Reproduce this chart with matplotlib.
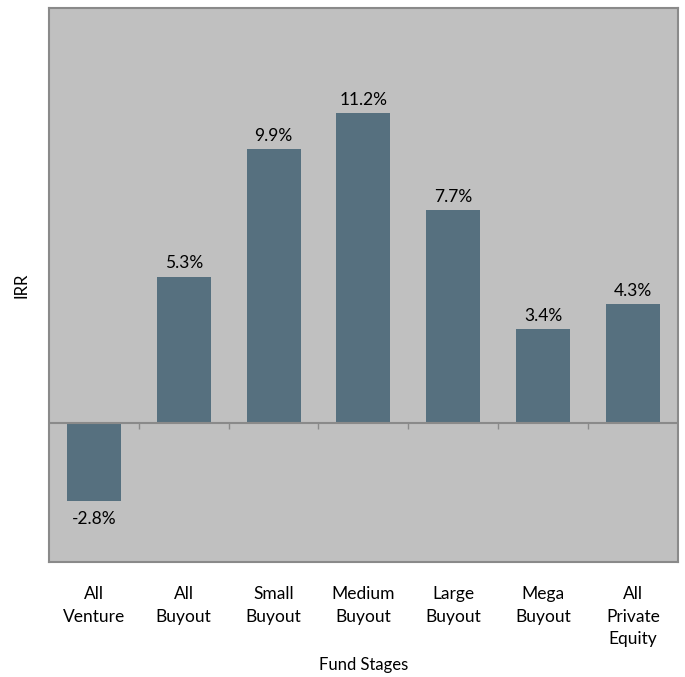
import matplotlib.pyplot as plt
import numpy as np

# données
categories = ['All\nVenture', 'All\nBuyout', 'Small\nBuyout', 'Medium\nBuyout',
              'Large\nBuyout', 'Mega\nBuyout', 'All\nPrivate\nEquity']
irr = [-2.8, 5.3, 9.9, 11.2, 7.7, 3.4, 4.3]

plt.rcParams['font.family'] = ['Lato', 'DejaVu Sans']

fig = plt.figure(figsize=(6.85, 6.77), dpi=100)
ax = fig.add_axes([0.0715, 0.170, 0.918, 0.818])
ax.set_facecolor('#c0c0c0')

x = np.arange(len(categories))
ax.bar(x, irr, width=0.6, color='#56707f', zorder=2)

# étiquettes des barres
for xi, v in zip(x, irr):
    if v >= 0:
        ax.annotate(f'{v:.1f}%', (xi, v), xytext=(0, 4), textcoords='offset points',
                    ha='center', va='bottom', fontsize=12.5)
    else:
        ax.annotate(f'{v:.1f}%', (xi, v), xytext=(0, -7), textcoords='offset points',
                    ha='center', va='top', fontsize=12.5)

# ligne du zéro et graduations
ax.axhline(0, color='#8a8a8a', linewidth=1.5, zorder=3)
bounds = np.arange(len(categories) + 1) - 0.5
ax.vlines(bounds[1:-1], -0.2, 0, color='#8a8a8a', linewidth=1, zorder=3)

ax.set_xlim(-0.5, len(categories) - 0.5)
ax.set_ylim(-5, 15)
ax.set_yticks([])
ax.set_xticks(x)
ax.set_xticklabels(categories, fontsize=12.5, linespacing=1.5)
ax.tick_params(axis='x', length=0, pad=17.5)

for s in ax.spines.values():
    s.set_color('#8a8a8a')
    s.set_linewidth(1.5)

ax.set_xlabel('Fund Stages', fontsize=12, labelpad=7)
ax.set_ylabel('IRR', fontsize=12, labelpad=14)

plt.savefig('out.png')
